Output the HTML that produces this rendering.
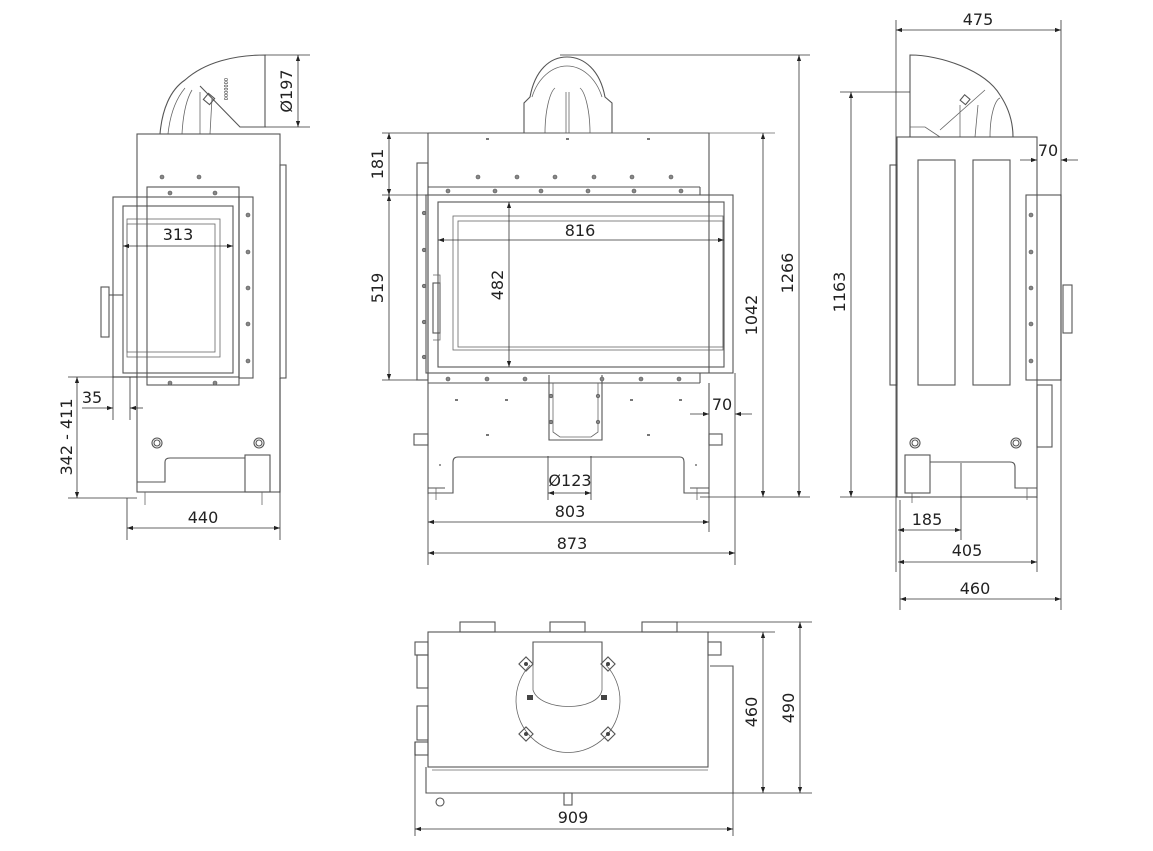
<!DOCTYPE html>
<html><head><meta charset="utf-8"><style>
html,body{margin:0;padding:0;background:#fff}
svg{display:block}
text{font-family:"DejaVu Sans","Liberation Sans",sans-serif;font-size:16px;fill:#222}
.o{fill:none;stroke:#555;stroke-width:1.1}
.t{fill:none;stroke:#666;stroke-width:0.8}
.d{fill:none;stroke:#333;stroke-width:0.8}
.dot{fill:#888;stroke:#555;stroke-width:0.6}
</style></head><body>
<svg width="1153" height="851" viewBox="0 0 1153 851" xmlns="http://www.w3.org/2000/svg">
<defs>
<marker id="a" viewBox="0 0 10 10" refX="10" refY="5" markerWidth="9" markerHeight="6" orient="auto-start-reverse" markerUnits="userSpaceOnUse"><path d="M0,1.5 L10,5 L0,8.5z" fill="#222"/></marker>
</defs>

<!-- ===== LEFT VIEW ===== -->
<g>
<path class="o" d="M160,134 C162,110 170,90 185,80 C205,62 235,55 265,55 L265,127 L240,127 L200,86"/>
<path class="t" d="M168,134 C170,115 175,100 185,88 M182,134 C183,115 186,100 192,90 M200,134 L200,92 M210,134 L212,98"/>
<rect class="o" x="205" y="95" width="8" height="8" transform="rotate(40 209 99)"/>
<text x="224" y="78" transform="rotate(90 224 78)" style="font-size:5px">0000000</text>
<rect class="o" x="137" y="134" width="143" height="358"/>
<rect class="o" x="280" y="165" width="6" height="213"/>
<rect class="o" x="147" y="187" width="92" height="198"/>
<rect class="o" x="113" y="197" width="126" height="180"/>
<rect class="o" x="239" y="197" width="14" height="181"/>
<rect class="o" x="123" y="206" width="110" height="167"/>
<rect class="t" x="127" y="219" width="93" height="138"/>
<rect class="t" x="127" y="224" width="88" height="128"/>
<rect class="o" x="101" y="287" width="8" height="50"/>
<line class="o" x1="109" y1="295" x2="123" y2="295"/>
<g class="dot"><circle cx="162" cy="177" r="2"/><circle cx="199" cy="177" r="2"/><circle cx="170" cy="193" r="2"/><circle cx="215" cy="193" r="2"/><circle cx="170" cy="383" r="2"/><circle cx="215" cy="383" r="2"/><circle cx="248" cy="215" r="2"/><circle cx="248" cy="252" r="2"/><circle cx="248" cy="288" r="2"/><circle cx="248" cy="324" r="2"/><circle cx="248" cy="361" r="2"/></g>
<circle class="o" cx="157" cy="443" r="5"/><circle class="o" cx="157" cy="443" r="3"/>
<circle class="o" cx="259" cy="443" r="5"/><circle class="o" cx="259" cy="443" r="3"/>
<path class="o" d="M137,482 L165,482 L165,462 Q165,458 170,458 L245,458"/>
<rect class="o" x="245" y="455" width="25" height="37"/>
<path class="o" d="M137,492 L155,492 M250,492 L270,492"/>
<line class="t" x1="145" y1="492" x2="145" y2="505"/><line class="t" x1="262" y1="492" x2="262" y2="505"/>
<!-- dims -->
<line class="d" x1="265" y1="55" x2="310" y2="55"/><line class="d" x1="265" y1="127" x2="310" y2="127"/>
<line class="d" x1="298" y1="55" x2="298" y2="127" marker-start="url(#a)" marker-end="url(#a)"/>
<text x="296" y="91" text-anchor="middle" transform="rotate(-90 296 91)" dy="-4">Ø197</text>
<line class="d" x1="123" y1="246" x2="233" y2="246" marker-start="url(#a)" marker-end="url(#a)"/>
<text x="178" y="240" text-anchor="middle">313</text>
<line class="d" x1="68" y1="377" x2="137" y2="377"/><line class="d" x1="68" y1="498" x2="137" y2="498"/>
<line class="d" x1="77" y1="377" x2="77" y2="498" marker-start="url(#a)" marker-end="url(#a)"/>
<text x="72" y="437" text-anchor="middle" transform="rotate(-90 72 437)">342 - 411</text>
<line class="d" x1="113" y1="377" x2="113" y2="420"/><line class="d" x1="130" y1="377" x2="130" y2="420"/>
<line class="d" x1="82" y1="408" x2="113" y2="408" marker-end="url(#a)"/><line class="d" x1="143" y1="408" x2="130" y2="408" marker-end="url(#a)"/>
<text x="92" y="403" text-anchor="middle">35</text>
<line class="d" x1="127" y1="498" x2="127" y2="540"/><line class="d" x1="280" y1="378" x2="280" y2="540"/>
<line class="d" x1="127" y1="528" x2="280" y2="528" marker-start="url(#a)" marker-end="url(#a)"/>
<text x="203" y="523" text-anchor="middle">440</text>
</g>

<!-- ===== CENTER VIEW ===== -->
<g>
<path class="o" d="M524,133 L524,103 L530,97 C535,70 550,57 567,57 C584,57 600,70 605,97 L612,103 L612,133"/>
<path class="t" d="M532,97 C538,78 552,66 567,66 C582,66 596,78 602,97 M545,133 C545,110 550,92 555,88 M590,133 C590,110 585,92 580,88 M566,133 L566,92 M569,133 L569,92"/>
<path class="o" d="M428,133 L709,133 L709,373 M428,133 L428,493 L453,493 L453,462 Q453,457 458,457 L680,457 Q684,457 684,462 L684,493 L709,493 L709,383"/>
<line class="t" x1="560" y1="133" x2="775" y2="133"/>
<rect class="o" x="417" y="163" width="11" height="217"/>
<line class="o" x1="428" y1="187" x2="700" y2="187"/><line class="o" x1="700" y1="187" x2="700" y2="195"/>
<rect class="o" x="426" y="195" width="307" height="178"/>
<rect class="o" x="438" y="202" width="286" height="165"/>
<rect class="t" x="453" y="216" width="270" height="134"/>
<rect class="t" x="458" y="221" width="265" height="126"/>
<rect class="o" x="433" y="283" width="7" height="50"/>
<path class="t" d="M433,275 L440,275 L440,340 L433,340"/>
<line class="o" x1="428" y1="383" x2="700" y2="383"/><line class="o" x1="700" y1="373" x2="700" y2="383"/>
<path class="o" d="M549,375 L549,440 L602,440 L602,375"/><path class="t" d="M553,383 L553,432 L560,437 L591,437 L598,432 L598,383"/>
<rect class="o" x="414" y="434" width="14" height="11"/><rect class="o" x="709" y="434" width="13" height="11"/>
<g class="dot"><circle cx="478" cy="177" r="2"/><circle cx="517" cy="177" r="2"/><circle cx="555" cy="177" r="2"/><circle cx="594" cy="177" r="2"/><circle cx="632" cy="177" r="2"/><circle cx="671" cy="177" r="2"/>
<circle cx="448" cy="191" r="2"/><circle cx="495" cy="191" r="2"/><circle cx="541" cy="191" r="2"/><circle cx="588" cy="191" r="2"/><circle cx="634" cy="191" r="2"/><circle cx="681" cy="191" r="2"/>
<circle cx="448" cy="379" r="2"/><circle cx="487" cy="379" r="2"/><circle cx="525" cy="379" r="2"/><circle cx="602" cy="379" r="2"/><circle cx="641" cy="379" r="2"/><circle cx="679" cy="379" r="2"/>
<circle cx="551" cy="396" r="1.8"/><circle cx="598" cy="396" r="1.8"/><circle cx="551" cy="422" r="1.8"/><circle cx="598" cy="422" r="1.8"/>
<circle cx="424" cy="213" r="1.8"/><circle cx="424" cy="250" r="1.8"/><circle cx="424" cy="286" r="1.8"/><circle cx="424" cy="322" r="1.8"/><circle cx="424" cy="357" r="1.8"/></g>
<g fill="#777"><rect x="486" y="138" width="3" height="2"/><rect x="566" y="138" width="3" height="2"/><rect x="647" y="138" width="3" height="2"/><rect x="455" y="399" width="3" height="2"/><rect x="505" y="399" width="3" height="2"/><rect x="630" y="399" width="3" height="2"/><rect x="679" y="399" width="3" height="2"/><rect x="486" y="434" width="3" height="2"/><rect x="647" y="434" width="3" height="2"/><circle cx="440" cy="465" r="1"/><circle cx="696" cy="465" r="1"/></g>
<path class="o" d="M428,488 L445,488 M690,488 L709,488"/>
<line class="t" x1="436" y1="488" x2="436" y2="500"/><line class="t" x1="697" y1="488" x2="697" y2="500"/>
<!-- dims -->
<line class="d" x1="382" y1="195" x2="426" y2="195"/><line class="d" x1="382" y1="380" x2="417" y2="380"/><line class="d" x1="382" y1="133" x2="428" y2="133"/>
<line class="d" x1="389" y1="133" x2="389" y2="195" marker-start="url(#a)" marker-end="url(#a)"/>
<line class="d" x1="389" y1="195" x2="389" y2="380" marker-start="url(#a)" marker-end="url(#a)"/>
<text x="383" y="164" text-anchor="middle" transform="rotate(-90 383 164)">181</text>
<text x="383" y="288" text-anchor="middle" transform="rotate(-90 383 288)">519</text>
<line class="d" x1="438" y1="240" x2="724" y2="240" marker-start="url(#a)" marker-end="url(#a)"/>
<text x="580" y="236" text-anchor="middle">816</text>
<line class="d" x1="509" y1="202" x2="509" y2="367" marker-start="url(#a)" marker-end="url(#a)"/>
<text x="503" y="285" text-anchor="middle" transform="rotate(-90 503 285)">482</text>
<line class="d" x1="735" y1="373" x2="735" y2="565"/>
<line class="d" x1="690" y1="414" x2="709" y2="414" marker-end="url(#a)"/><line class="d" x1="752" y1="414" x2="735" y2="414" marker-end="url(#a)"/>
<text x="722" y="410" text-anchor="middle">70</text>
<line class="d" x1="548" y1="456" x2="548" y2="500"/><line class="d" x1="591" y1="456" x2="591" y2="500"/>
<line class="d" x1="548" y1="493" x2="591" y2="493" marker-start="url(#a)" marker-end="url(#a)"/>
<text x="570" y="486" text-anchor="middle">Ø123</text>
<line class="d" x1="428" y1="493" x2="428" y2="565"/><line class="d" x1="709" y1="493" x2="709" y2="532"/>
<line class="d" x1="428" y1="522" x2="709" y2="522" marker-start="url(#a)" marker-end="url(#a)"/>
<text x="570" y="517" text-anchor="middle">803</text>
<line class="d" x1="428" y1="553" x2="735" y2="553" marker-start="url(#a)" marker-end="url(#a)"/>
<text x="572" y="549" text-anchor="middle">873</text>
<line class="d" x1="560" y1="55" x2="810" y2="55"/><line class="d" x1="700" y1="497" x2="810" y2="497"/>
<line class="d" x1="763" y1="133" x2="763" y2="497" marker-start="url(#a)" marker-end="url(#a)"/>
<line class="d" x1="799" y1="55" x2="799" y2="497" marker-start="url(#a)" marker-end="url(#a)"/>
<text x="757" y="315" text-anchor="middle" transform="rotate(-90 757 315)">1042</text>
<text x="793" y="273" text-anchor="middle" transform="rotate(-90 793 273)">1266</text>
</g>

<!-- ===== RIGHT VIEW ===== -->
<g>
<path class="o" d="M910,137 L910,55 C940,55 985,70 1000,95 C1010,110 1013,125 1013,137"/>
<path class="t" d="M910,127 L925,127 L940,137 M940,130 L985,90 M960,137 L960,105 M975,137 L978,105 M990,137 C990,115 995,100 1000,98"/>
<rect class="o" x="962" y="96" width="7" height="7" transform="rotate(40 965 99)"/>
<rect class="o" x="897" y="137" width="140" height="360"/>
<rect class="o" x="890" y="165" width="7" height="220"/>
<rect class="o" x="918" y="160" width="37" height="225"/>
<rect class="o" x="973" y="160" width="37" height="225"/>
<rect class="o" x="1026" y="195" width="35" height="185"/>
<rect class="o" x="1063" y="285" width="9" height="48"/>
<rect class="o" x="1037" y="385" width="15" height="62"/>
<g class="dot"><circle cx="1031" cy="215" r="2"/><circle cx="1031" cy="252" r="2"/><circle cx="1031" cy="288" r="2"/><circle cx="1031" cy="324" r="2"/><circle cx="1031" cy="361" r="2"/></g>
<circle class="o" cx="915" cy="443" r="5"/><circle class="o" cx="915" cy="443" r="3"/>
<circle class="o" cx="1016" cy="443" r="5"/><circle class="o" cx="1016" cy="443" r="3"/>
<rect class="o" x="905" y="455" width="25" height="38"/>
<path class="o" d="M930,462 L1010,462 Q1015,462 1015,467 L1015,488 L1037,488"/>
<line class="t" x1="912" y1="493" x2="912" y2="503"/><line class="t" x1="1027" y1="488" x2="1027" y2="500"/>
<!-- dims -->
<line class="d" x1="896" y1="20" x2="896" y2="572"/><line class="d" x1="1061" y1="20" x2="1061" y2="610"/>
<line class="d" x1="896" y1="30" x2="1061" y2="30" marker-start="url(#a)" marker-end="url(#a)"/>
<text x="978" y="25" text-anchor="middle">475</text>
<line class="d" x1="840" y1="92" x2="910" y2="92"/><line class="d" x1="840" y1="497" x2="920" y2="497"/>
<line class="d" x1="851" y1="92" x2="851" y2="497" marker-start="url(#a)" marker-end="url(#a)"/>
<text x="845" y="292" text-anchor="middle" transform="rotate(-90 845 292)">1163</text>
<line class="d" x1="1020" y1="160" x2="1037" y2="160" marker-end="url(#a)"/><line class="d" x1="1078" y1="160" x2="1061" y2="160" marker-end="url(#a)"/>
<text x="1048" y="156" text-anchor="middle">70</text>
<line class="d" x1="961" y1="463" x2="961" y2="540"/><line class="d" x1="1037" y1="497" x2="1037" y2="572"/><line class="d" x1="900" y1="500" x2="900" y2="610"/>
<line class="d" x1="898" y1="530" x2="961" y2="530" marker-start="url(#a)" marker-end="url(#a)"/>
<text x="927" y="525" text-anchor="middle">185</text>
<line class="d" x1="898" y1="562" x2="1037" y2="562" marker-start="url(#a)" marker-end="url(#a)"/>
<text x="967" y="556" text-anchor="middle">405</text>
<line class="d" x1="900" y1="599" x2="1061" y2="599" marker-start="url(#a)" marker-end="url(#a)"/>
<text x="975" y="594" text-anchor="middle">460</text>
</g>

<!-- ===== BOTTOM VIEW ===== -->
<g>
<rect class="o" x="460" y="622" width="35" height="10"/><rect class="o" x="550" y="622" width="35" height="10"/><rect class="o" x="642" y="622" width="35" height="10"/>
<rect class="o" x="428" y="632" width="280" height="135"/>
<path class="o" d="M426,767 L426,793 L733,793 L733,666 L710,666"/>
<rect class="o" x="415" y="642" width="13" height="13"/><rect class="o" x="417" y="655" width="11" height="33"/>
<rect class="o" x="417" y="706" width="11" height="34"/><rect class="o" x="415" y="742" width="13" height="13"/>
<rect class="o" x="708" y="642" width="13" height="13"/>
<circle class="o" cx="440" cy="802" r="4"/><rect class="o" x="564" y="793" width="8" height="12"/>
<path class="t" d="M432,770 L708,770"/>
<path class="o" d="M533,663 L533,642 L602,642 L602,663"/>
<path class="t" d="M533,663 L533,690 C540,712 598,712 602,690 L602,663"/>
<path class="t" d="M530,665 A52,52 0 1 0 606,665"/>
<g class="o"><rect x="521" y="659" width="10" height="10" transform="rotate(45 526 664)"/><rect x="603" y="659" width="10" height="10" transform="rotate(45 608 664)"/><rect x="521" y="729" width="10" height="10" transform="rotate(45 526 734)"/><rect x="603" y="729" width="10" height="10" transform="rotate(45 608 734)"/></g>
<g fill="#444"><circle cx="526" cy="664" r="2"/><circle cx="608" cy="664" r="2"/><circle cx="526" cy="734" r="2"/><circle cx="608" cy="734" r="2"/><rect x="527" y="695" width="6" height="5"/><rect x="601" y="695" width="6" height="5"/></g>
<!-- dims -->
<line class="d" x1="677" y1="622" x2="812" y2="622"/><line class="d" x1="708" y1="632" x2="775" y2="632"/><line class="d" x1="733" y1="793" x2="812" y2="793"/>
<line class="d" x1="763" y1="632" x2="763" y2="793" marker-start="url(#a)" marker-end="url(#a)"/>
<line class="d" x1="800" y1="622" x2="800" y2="793" marker-start="url(#a)" marker-end="url(#a)"/>
<text x="757" y="712" text-anchor="middle" transform="rotate(-90 757 712)">460</text>
<text x="794" y="708" text-anchor="middle" transform="rotate(-90 794 708)">490</text>
<line class="d" x1="415" y1="742" x2="415" y2="836"/><line class="d" x1="733" y1="793" x2="733" y2="836"/>
<line class="d" x1="415" y1="829" x2="733" y2="829" marker-start="url(#a)" marker-end="url(#a)"/>
<text x="573" y="823" text-anchor="middle">909</text>
</g>
</svg>
</body></html>
